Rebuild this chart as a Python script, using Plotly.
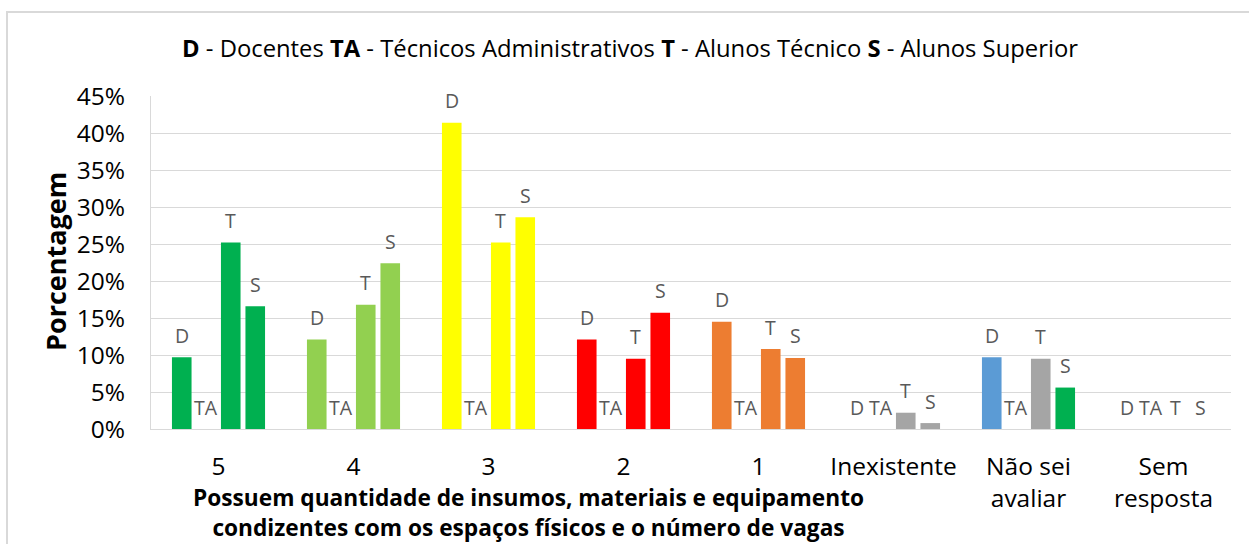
import plotly.graph_objects as go

# Categories (answer options) and share of answers for each respondent group
categories = ["5", "4", "3", "2", "1", "Inexistente", "Não sei<br>avaliar", "Sem<br>resposta"]
series_names = ["D", "TA", "T", "S"]
docentes = [0.097, 0.121, 0.414, 0.121, 0.145, 0.0, 0.097, 0.0]
tecnicos_adm = [0.0, 0.0, 0.0, 0.0, 0.0, 0.0, 0.0, 0.0]
alunos_tecnico = [0.252, 0.168, 0.252, 0.095, 0.108, 0.022, 0.095, 0.0]
alunos_superior = [0.166, 0.224, 0.286, 0.157, 0.096, 0.008, 0.056, 0.0]
series_values = [docentes, tecnicos_adm, alunos_tecnico, alunos_superior]

# Colour of every bar, per category, for each series
cat_colors = ["#00B050", "#92D050", "#FFFF00", "#FF0000", "#ED7D31", "#A5A5A5", None, None]
nao_sei_colors = {"D": "#5B9BD5", "TA": "#A5A5A5", "T": "#A5A5A5", "S": "#00B050"}

W, H = 1249, 544
L, R, T, B = 151, 18, 96, 115
PW, PH = W - L - R, H - T - B
FONT = "Open Sans"


def px_x(px):
    return (px - L) / PW


def px_y(py):
    return (H - B - py) / PH


fig = go.Figure()
for name, vals in zip(series_names, series_values):
    colors = []
    for base in cat_colors:
        colors.append(nao_sei_colors[name] if base is None else base)
    fig.add_trace(go.Bar(
        x=categories, y=vals, name=name,
        marker=dict(color=colors, line=dict(width=0)),
        showlegend=False, hoverinfo="x+y+name",
    ))

bargap = 0.274
bargroupgap = 0.2
slot = PW / len(categories) * (1 - bargap) / len(series_names)

# Series letter above every bar (category axis positions are indices)
annotations = []
for i, (name, vals) in enumerate(zip(series_names, series_values)):
    shift = (i - (len(series_names) - 1) / 2) * slot
    for ci, v in enumerate(vals):
        annotations.append(dict(
            x=ci, y=v, xref="x", yref="y", text=name, showarrow=False,
            xshift=shift, yshift=22, yanchor="middle", xanchor="center",
            font=dict(family=FONT, size=19.5, color="#595959"),
        ))

# Chart title with bold abbreviations
annotations.append(dict(
    x=px_x(630), y=px_y(48), xref="paper", yref="paper", showarrow=False,
    xanchor="center", yanchor="middle",
    text="<b>D</b> - Docentes <b>TA</b> - Técnicos Administrativos <b>T</b> - Alunos Técnico <b>S</b> - Alunos Superior",
    font=dict(family=FONT, size=23.8, color="#000000"),
))
# Y axis title
annotations.append(dict(
    x=px_x(55), y=px_y(262), xref="paper", yref="paper", showarrow=False,
    xanchor="center", yanchor="middle", textangle=-90,
    text="<b>Porcentagem</b>",
    font=dict(family=FONT, size=27, color="#000000"),
))
# X axis title
annotations.append(dict(
    x=px_x(528), y=px_y(512), xref="paper", yref="paper", showarrow=False,
    xanchor="center", yanchor="middle",
    text="<b>Possuem quantidade de insumos, materiais e equipamento<br>condizentes com os espaços físicos e o número de vagas</b>",
    font=dict(family=FONT, size=22.7, color="#000000"),
))

fig.update_layout(
    width=W, height=H,
    margin=dict(l=L, r=R, t=T, b=B, pad=0),
    paper_bgcolor="white", plot_bgcolor="white",
    barmode="group", bargap=bargap, bargroupgap=bargroupgap,
    font=dict(family=FONT, color="#000000"),
    annotations=annotations,
    shapes=[dict(
        type="rect", xref="paper", yref="paper",
        x0=px_x(7), x1=px_x(W + 20), y0=px_y(H + 20), y1=px_y(12),
        line=dict(color="#D9D9D9", width=2), fillcolor="rgba(0,0,0,0)", layer="below",
    )],
    xaxis=dict(
        showgrid=False, showline=True, linecolor="#D9D9D9", linewidth=1,
        ticks="outside", ticklen=16, tickcolor="rgba(0,0,0,0)",
        tickfont=dict(family=FONT, size=24.5, color="#000000"),
        fixedrange=True,
    ),
    yaxis=dict(
        range=[0, 0.45], dtick=0.05, tickformat=".0%",
        showgrid=True, gridcolor="#D9D9D9", gridwidth=1,
        showline=True, linecolor="#D9D9D9", linewidth=1,
        zeroline=False,
        ticks="outside", ticklen=20, tickcolor="rgba(0,0,0,0)",
        tickfont=dict(family=FONT, size=24.5, color="#000000"),
        fixedrange=True,
    ),
)

fig.write_html("out.html")
